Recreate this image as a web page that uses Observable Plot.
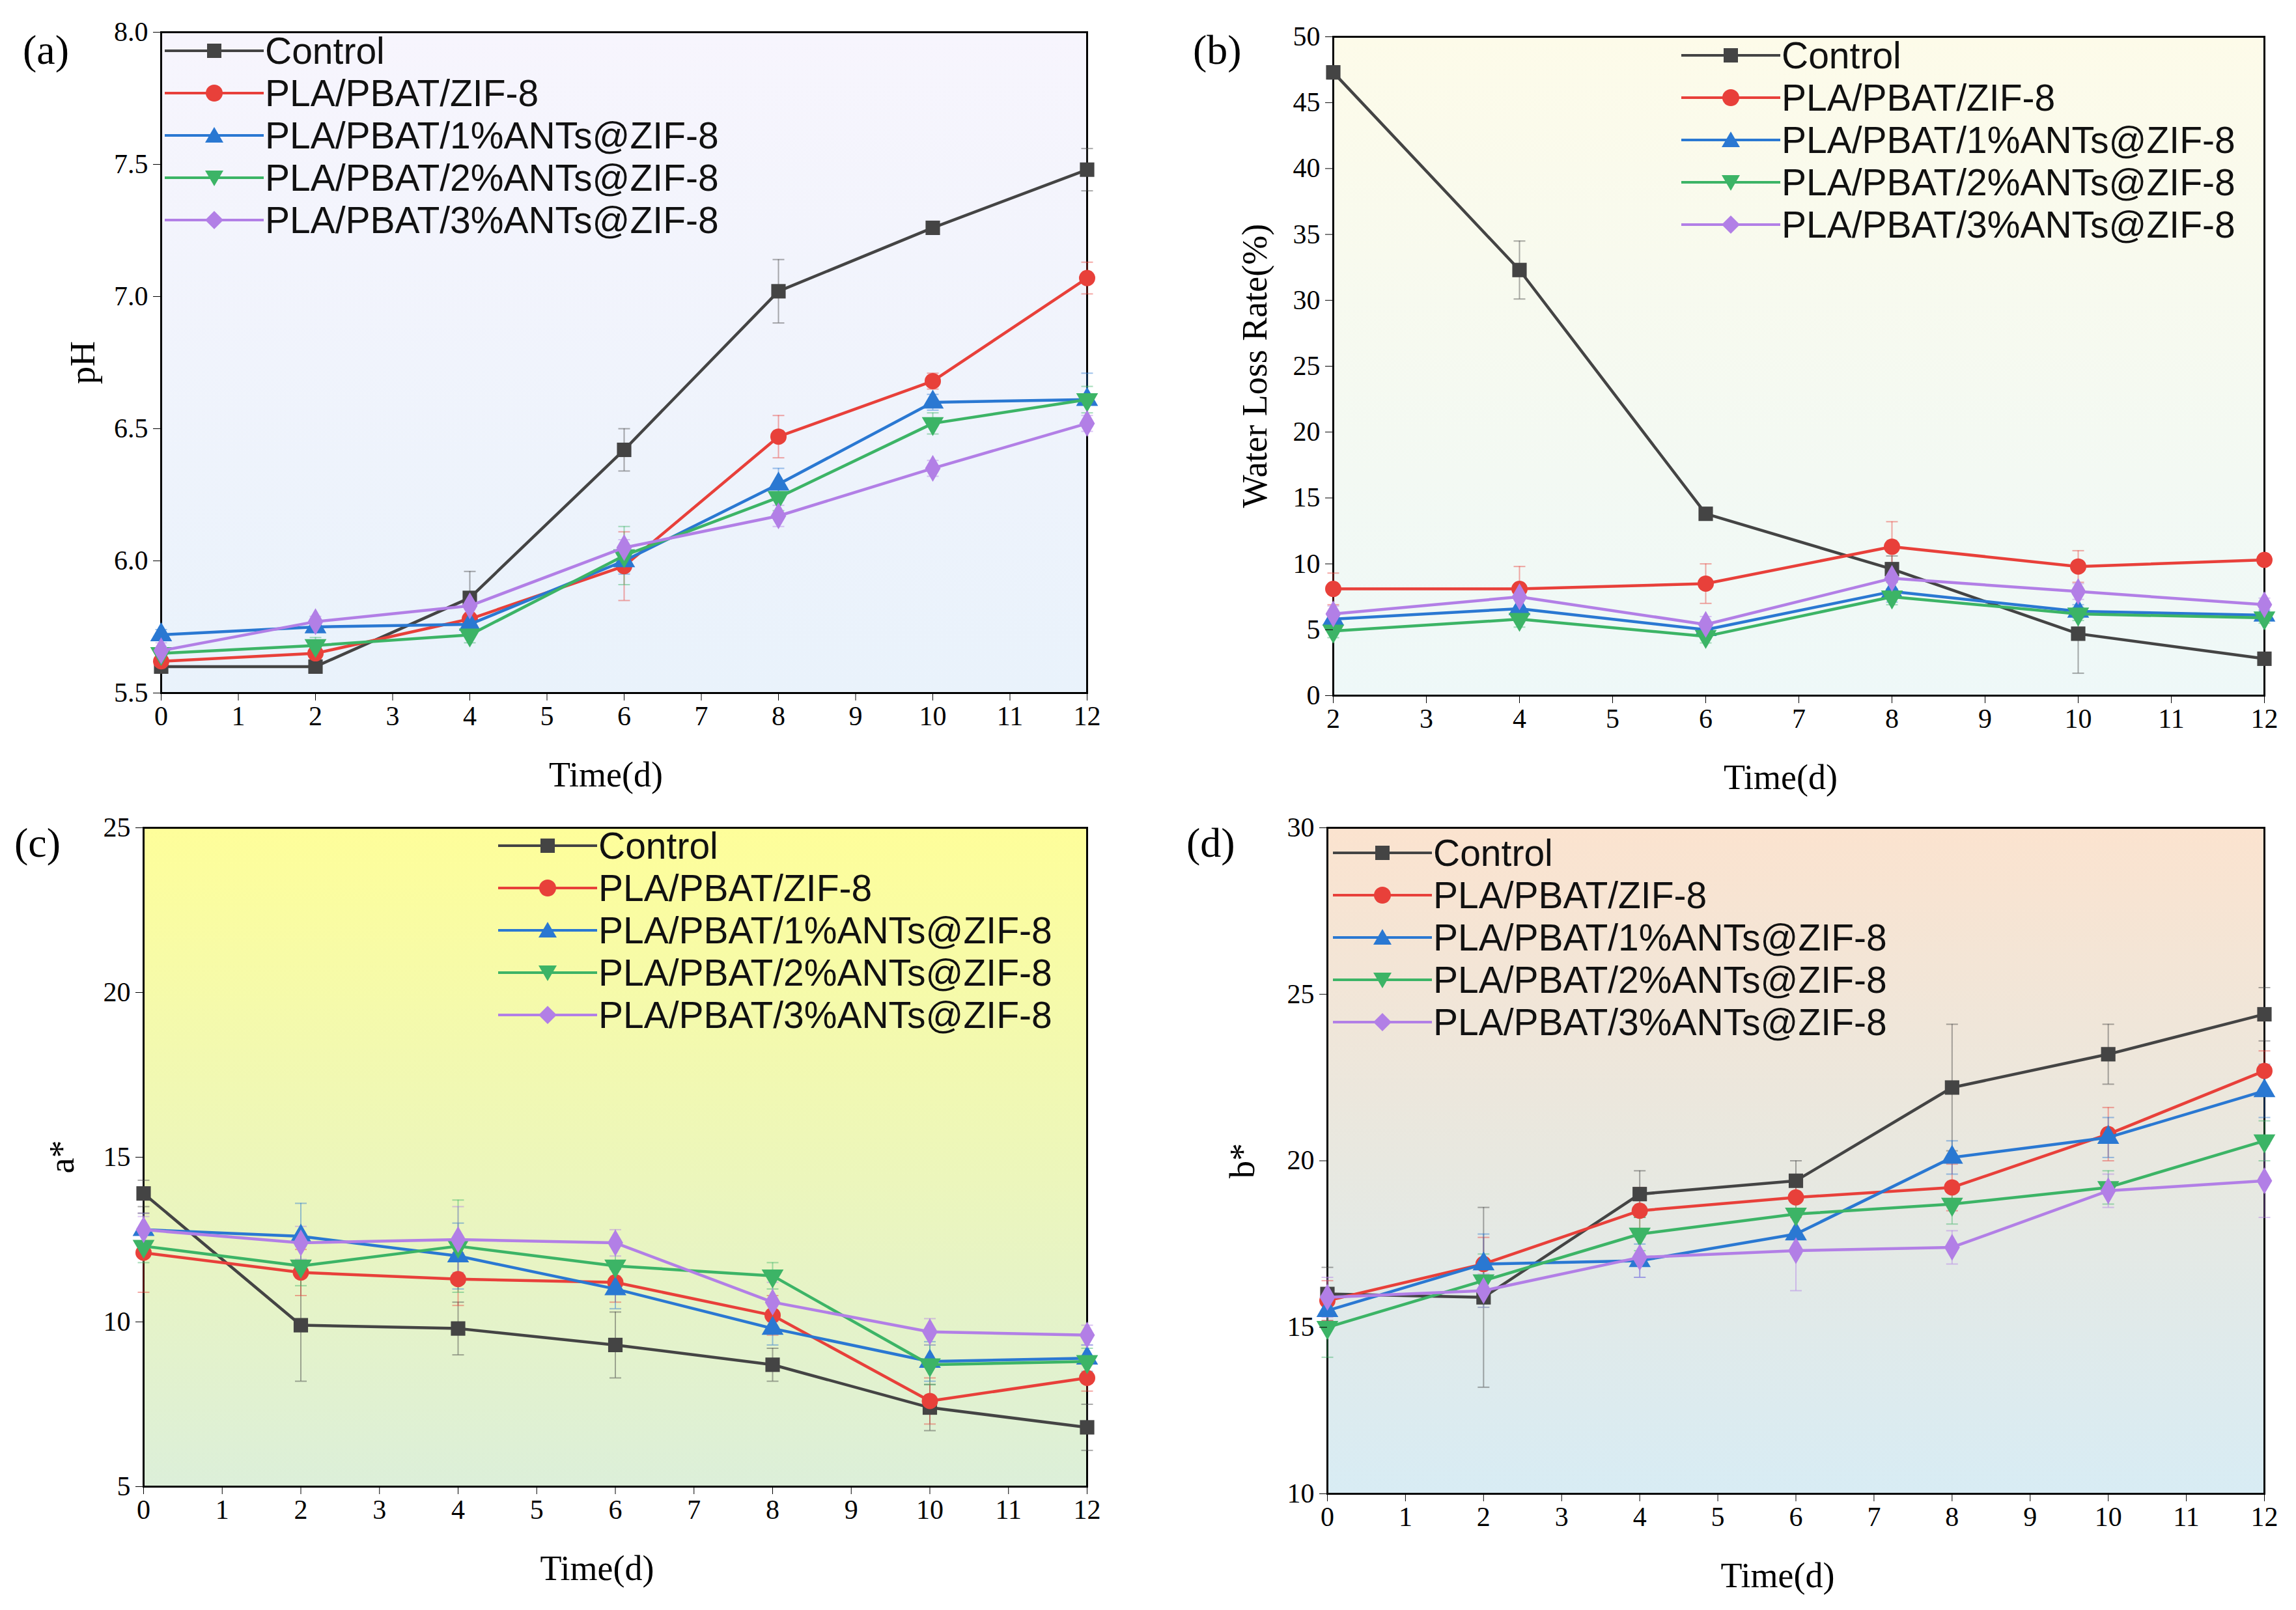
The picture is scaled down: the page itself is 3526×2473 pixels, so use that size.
<!DOCTYPE html>
<html><head><meta charset="utf-8">
<script src="https://cdn.jsdelivr.net/npm/d3@7"></script>
<script src="https://cdn.jsdelivr.net/npm/@observablehq/plot@0.6"></script>
<style>
body{margin:0;background:#fff;}
#c{position:relative;width:3526px;height:2473px;overflow:hidden;}
.bg,.pl,.lg,.lab{position:absolute;}
.lg{font-family:"Liberation Sans",Arial,sans-serif;font-size:57px;color:#111;}
.row{display:flex;align-items:center;height:65px;}
.lab{font-family:"Liberation Serif",serif;font-size:60px;}
</style></head><body><div id="c"></div>
<script>
const names=["Control","PLA/PBAT/ZIF-8","PLA/PBAT/1%ANTs@ZIF-8","PLA/PBAT/2%ANTs@ZIF-8","PLA/PBAT/3%ANTs@ZIF-8"];
const colors=["#444444","#e8403a","#2a78d2","#3cb466","#b27fe6"];
const days=[0,2,4,6,8,10,12];
const daysB=[2,4,6,8,10,12];
// (a) pH
const phVals=[[5.60,5.60,5.86,6.42,7.02,7.26,7.48],[5.62,5.65,5.78,5.98,6.47,6.68,7.07],[5.72,5.75,5.76,6.00,6.29,6.60,6.61],[5.65,5.68,5.72,6.02,6.24,6.52,6.61],[5.66,5.77,5.83,6.05,6.17,6.35,6.52]];
const phErr=[[0.02,0.02,0.10,0.08,0.12,0.02,0.08],[0.02,0.03,0.04,0.13,0.08,0.03,0.06],[0.02,0.02,0.03,0.05,0.06,0.03,0.10],[0.02,0.03,0.03,0.11,0.05,0.04,0.05],[0.03,0.02,0.04,0.03,0.04,0.03,0.03]];
// (b) water loss
const wlVals=[[47.3,32.3,13.8,9.6,4.7,2.8],[8.1,8.1,8.5,11.3,9.8,10.3],[5.8,6.6,5.0,7.9,6.4,6.1],[4.9,5.8,4.5,7.5,6.2,5.9],[6.2,7.5,5.4,8.9,7.9,6.9]];
const wlErr=[[0.5,2.2,0.3,1.0,3.0,0.3],[1.2,1.7,1.5,1.9,1.2,0.4],[0.5,0.8,0.6,0.8,0.5,0.4],[0.5,0.6,0.5,0.6,0.5,0.4],[0.6,0.8,0.6,0.8,0.6,0.5]];
// (c) a*
const aVals=[[13.9,9.9,9.8,9.3,8.7,7.4,6.8],[12.1,11.5,11.3,11.2,10.2,7.6,8.3],[12.8,12.6,12.0,11.0,9.8,8.8,8.9],[12.3,11.7,12.3,11.7,11.4,8.7,8.8],[12.8,12.4,12.5,12.4,10.6,9.7,9.6]];
const aErr=[[0.4,1.7,0.8,1.0,0.5,0.7,0.7],[1.2,0.7,0.8,0.6,0.6,0.7,0.4],[0.5,1.0,1.0,0.6,0.5,0.6,0.4],[0.5,0.6,1.4,0.6,0.4,0.6,0.4],[0.4,0.5,1.0,0.4,0.6,0.4,0.3]];
// (d) b*
const bVals=[[16.0,15.9,19.0,19.4,22.2,23.2,24.4],[15.8,16.9,18.5,18.9,19.2,20.8,22.7],[15.5,16.9,17.0,17.8,20.1,20.7,22.1],[15.0,16.4,17.8,18.4,18.7,19.2,20.6],[15.9,16.1,17.1,17.3,17.4,19.1,19.4]];
const bErr=[[0.8,2.7,0.7,0.6,1.9,0.9,0.8],[0.6,0.8,0.7,0.6,0.7,0.8,0.6],[0.5,0.9,0.5,0.6,0.5,0.6,0.8],[0.9,0.8,0.5,0.5,0.6,0.5,0.6],[0.6,0.5,0.6,1.2,0.5,0.5,1.1]];

const triDown={draw(ctx,size){const s=Math.sqrt(size/0.433)/1.0;const h=s*0.866;ctx.moveTo(-s/2,-h/3);ctx.lineTo(s/2,-h/3);ctx.lineTo(0,2*h/3);ctx.closePath();}};
const cap={draw(ctx,size){ctx.moveTo(-9,0);ctx.lineTo(9,0);}};
const symbols=["square","circle","triangle",triDown,"diamond"];

function panel(o){
  const c=document.getElementById("c");
  const W=o.fx2-o.fx1,H=o.fy2-o.fy1;
  const ml=150,mr=30,mt=20,mb=200;
  const bg=document.createElement("div");bg.className="bg";
  Object.assign(bg.style,{left:o.fx1+"px",top:o.fy1+"px",width:W+"px",height:H+"px",background:o.grad});
  c.appendChild(bg);
  const data=[];
  o.vals.forEach((s,i)=>s.forEach((v,j)=>data.push({x:o.xs[j],y:v,e:o.errs[i][j],k:i})));
  const marks=[Plot.frame({stroke:"#000",strokeWidth:3})];
  o.vals.forEach((s,i)=>{
    const d=data.filter(r=>r.k===i);
    marks.push(Plot.ruleX(d,{x:"x",y1:r=>r.y-r.e,y2:r=>r.y+r.e,stroke:colors[i],strokeOpacity:0.45,strokeWidth:2}));
    marks.push(Plot.dot(d,{x:"x",y:r=>r.y+r.e,symbol:cap,stroke:colors[i],strokeOpacity:0.45,strokeWidth:2}));
    marks.push(Plot.dot(d,{x:"x",y:r=>r.y-r.e,symbol:cap,stroke:colors[i],strokeOpacity:0.45,strokeWidth:2}));
  });
  o.vals.forEach((s,i)=>{
    const d=data.filter(r=>r.k===i);
    marks.push(Plot.line(d,{x:"x",y:"y",stroke:colors[i],strokeWidth:4.5}));
    marks.push(Plot.dot(d,{x:"x",y:"y",symbol:symbols[i],fill:colors[i],r:12.5,stroke:"none"}));
  });
  marks.push(Plot.axisX({ticks:o.xt,tickSize:12,tickPadding:8,tickFormat:d3.format("d"),label:null,fontSize:42}));
  marks.push(Plot.axisY({ticks:o.yt,tickSize:12,tickPadding:8,tickFormat:o.yf,label:null,fontSize:42}));
  const p=Plot.plot({width:W+ml+mr,height:H+mt+mb,marginLeft:ml,marginRight:mr,marginTop:mt,marginBottom:mb,
    x:{domain:o.xd},y:{domain:o.yd},
    style:{fontFamily:"Liberation Serif",fontSize:"42px",background:"transparent",color:"#000"},marks});
  const w=document.createElement("div");w.className="pl";
  Object.assign(w.style,{left:(o.fx1-ml)+"px",top:(o.fy1-mt)+"px"});
  w.appendChild(p);c.appendChild(w);
  const xl=document.createElement("div");xl.className="lab";xl.textContent="Time(d)";
  Object.assign(xl.style,{left:(o.fx1+W/2-115)+"px",top:(o.fy2+95)+"px",fontSize:"54px"});c.appendChild(xl);
  const yl=document.createElement("div");yl.className="lab";yl.textContent=o.ylab;
  Object.assign(yl.style,{left:(o.fx1-o.ylOff)+"px",top:(o.fy1+H/2)+"px",fontSize:"54px",transform:"translate(-50%,-50%) rotate(-90deg)",whiteSpace:"nowrap"});c.appendChild(yl);
  const pl=document.createElement("div");pl.className="lab";pl.textContent=o.tag;
  Object.assign(pl.style,{left:o.tagx+"px",top:o.tagy+"px",fontSize:"64px"});c.appendChild(pl);
  const lg=document.createElement("div");lg.className="lg";
  Object.assign(lg.style,{left:o.lx+"px",top:o.ly+"px"});
  names.forEach((n,i)=>{
    const r=document.createElement("div");r.className="row";
    const sym=[`<rect x="65" y="21" width="22" height="22" fill="${colors[i]}"/>`,`<circle cx="76" cy="32" r="13" fill="${colors[i]}"/>`,
      `<polygon points="76,19 90,43 62,43" fill="${colors[i]}"/>`,`<polygon points="62,21 90,21 76,45" fill="${colors[i]}"/>`,
      `<polygon points="76,18 90,32 76,46 62,32" fill="${colors[i]}"/>`][i];
    r.innerHTML=`<svg width="152" height="64"><line x1="0" y1="32" x2="152" y2="32" stroke="${colors[i]}" stroke-width="4"/>${sym}</svg><span style="margin-left:2px">${n}</span>`;
    lg.appendChild(r);
  });
  c.appendChild(lg);
}
panel({fx1:247,fx2:1669,fy1:49,fy2:1064,xs:days,vals:phVals,errs:phErr,xd:[0,12],xt:d3.range(0,13),yd:[5.5,8.0],yt:d3.range(5.5,8.01,0.5),yf:d3.format(".1f"),
  grad:"linear-gradient(#f7f5fd,#e9f2fb)",ylab:"pH",ylOff:120,tag:"(a)",tagx:35,tagy:40,lx:253,ly:45});
panel({fx1:2047,fx2:3477,fy1:56,fy2:1068,xs:daysB,vals:wlVals,errs:wlErr,xd:[2,12],xt:d3.range(2,13),yd:[0,50],yt:d3.range(0,51,5),yf:d3.format("d"),
  grad:"linear-gradient(#fdfbe9,#eef8f8)",ylab:"Water Loss Rate(%)",ylOff:120,tag:"(b)",tagx:1832,tagy:40,lx:2582,ly:52});
panel({fx1:220,fx2:1669,fy1:1271,fy2:2283,xs:days,vals:aVals,errs:aErr,xd:[0,12],xt:d3.range(0,13),yd:[5,25],yt:d3.range(5,26,5),yf:d3.format("d"),
  grad:"linear-gradient(#fefe9a,#dcefd9)",ylab:"a*",ylOff:125,tag:"(c)",tagx:22,tagy:1258,lx:765,ly:1266});
panel({fx1:2038,fx2:3477,fy1:1271,fy2:2294,xs:days,vals:bVals,errs:bErr,xd:[0,12],xt:d3.range(0,13),yd:[10,30],yt:d3.range(10,31,5),yf:d3.format("d"),
  grad:"linear-gradient(#fbe3cf,#e8e8e0 50%,#d8ecf4)",ylab:"b*",ylOff:130,tag:"(d)",tagx:1822,tagy:1258,lx:2047,ly:1277});
</script></body></html>
